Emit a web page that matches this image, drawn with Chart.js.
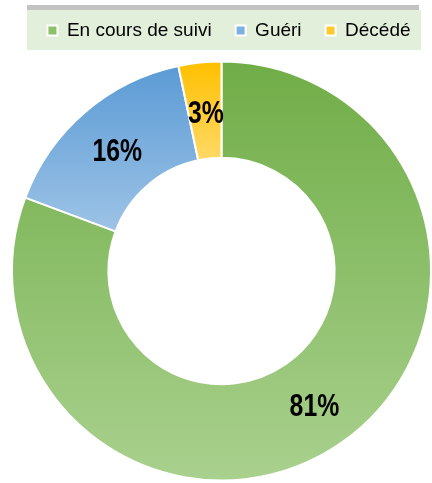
<!DOCTYPE html>
<html>
<head>
<meta charset="utf-8">
<script src="https://cdn.jsdelivr.net/npm/chart.js@4.4.1/dist/chart.umd.min.js"></script>
<style>
  html, body { margin: 0; padding: 0; background: #fff; overflow: hidden; }
  #wrap { position: relative; width: 432px; height: 483px; overflow: hidden; }
</style>
</head>
<body>
<div id="wrap"><canvas id="myChart" width="432" height="492"></canvas></div>
<script>
// data
const labels = ['En cours de suivi', 'Guéri', 'Décédé'];
const values = [80.7, 16.0, 3.3];
const percentLabels = ['81%', '16%', '3%'];
// top / bottom gradient colours of each slice
const topColors = ['#70ad47', '#5b9bd5', '#ffc000'];
const bottomColors = ['#a9d18e', '#9dc3e6', '#ffd966'];
const legendColors = ['#8cc168', '#7cb0e0', '#ffca2c'];

const total = values.reduce((a, b) => a + b, 0);

// vertical extent of a slice, so each one gets its own gradient like in Excel
function sliceYRange(chart, i) {
  const area = chart.chartArea;
  const cy = (area.top + area.bottom) / 2;
  const outer = (Math.min(area.width, area.height) - 2) / 2;
  const inner = outer * 0.54;
  let before = 0;
  for (let k = 0; k < i; k++) before += values[k];
  const a0 = -Math.PI / 2 + before / total * Math.PI * 2;
  const a1 = a0 + values[i] / total * Math.PI * 2;
  let minY = Infinity, maxY = -Infinity;
  for (let s = 0; s <= 60; s++) {
    const a = a0 + (a1 - a0) * s / 60;
    [inner, outer].forEach(r => {
      const y = cy + r * Math.sin(a);
      minY = Math.min(minY, y);
      maxY = Math.max(maxY, y);
    });
  }
  return [minY, maxY];
}

function sliceFill(context) {
  const chart = context.chart;
  const i = context.dataIndex;
  if (!chart.chartArea) return topColors[i];
  const [y0, y1] = sliceYRange(chart, i);
  const g = chart.ctx.createLinearGradient(0, y0, 0, y1);
  g.addColorStop(0, topColors[i]);
  g.addColorStop(1, bottomColors[i]);
  return g;
}

// light green legend band and the grey strip above it
const legendBand = {
  id: 'legendBand',
  afterLayout(chart) {
    // nudge the legend a little to the right, as in the picture
    chart.legend.left += 7;
    chart.legend.right += 7;
  },
  beforeDraw(chart) {
    const ctx = chart.ctx;
    ctx.save();
    ctx.fillStyle = '#c3c3c3';
    ctx.fillRect(27, 5, 392, 5);
    ctx.fillStyle = '#e2efda';
    ctx.fillRect(27, 10, 394, 40);
    ctx.restore();
  }
};

// percentage text in the middle of each slice (condensed bold)
const sliceLabels = {
  id: 'sliceLabels',
  afterDatasetsDraw(chart) {
    const ctx = chart.ctx;
    const meta = chart.getDatasetMeta(0);
    ctx.save();
    ctx.font = "bold 31px 'Liberation Sans', Arial, sans-serif";
    ctx.fillStyle = '#000';
    ctx.textAlign = 'center';
    ctx.textBaseline = 'middle';
    meta.data.forEach((arc, i) => {
      const p = arc.tooltipPosition();
      ctx.save();
      ctx.translate(p.x + 1, p.y + 4);
      ctx.scale(0.8, 1);
      ctx.fillText(percentLabels[i], 0, 0);
      ctx.restore();
    });
    ctx.restore();
  }
};

const ctx = document.getElementById('myChart').getContext('2d');
const myChart = new Chart(ctx, {
  type: 'doughnut',
  data: {
    labels: labels,
    datasets: [{
      data: values,
      backgroundColor: sliceFill,
      borderColor: '#ffffff',
      borderWidth: 2,
      hoverOffset: 0
    }]
  },
  options: {
    responsive: false,
    animation: false,
    cutout: '54%',
    layout: {
      padding: { top: -3, left: 11, right: -1, bottom: 0 }
    },
    plugins: {
      legend: {
        position: 'top',
        labels: {
          boxWidth: 10,
          boxHeight: 10,
          padding: 24,
          color: '#111',
          font: { family: "'Liberation Sans', Arial, sans-serif", size: 19 },
          generateLabels: () => labels.map((text, i) => ({
            text: text,
            fillStyle: legendColors[i],
            strokeStyle: '#ffffff',
            lineWidth: 2,
            index: i
          }))
        }
      },
      tooltip: { enabled: false }
    }
  },
  plugins: [legendBand, sliceLabels]
});
</script>
</body>
</html>
